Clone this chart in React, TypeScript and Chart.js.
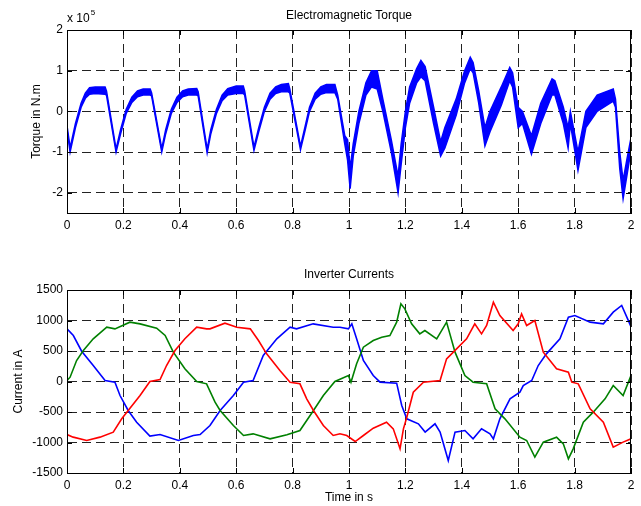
import React, { useEffect, useRef } from 'react';
import { Chart, registerables } from 'chart.js';
Chart.register(...registerables);

const timeTicks = [0, 0.2, 0.4, 0.6, 0.8, 1, 1.2, 1.4, 1.6, 1.8, 2];
const torqueTicks = [-2, -1, 0, 1, 2];
const currentTicks = [-1500, -1000, -500, 0, 500, 1000, 1500];

// Electromagnetic torque (x 1e5 N.m): ripple band envelope
const torqueT = [0, 0.011, 0.03, 0.05, 0.065, 0.08, 0.1, 0.135, 0.14, 0.174, 0.19, 0.21, 0.23, 0.25, 0.27, 0.295, 0.3, 0.336, 0.35, 0.37, 0.39, 0.41, 0.43, 0.46, 0.465, 0.497, 0.51, 0.53, 0.55, 0.57, 0.6, 0.625, 0.63, 0.663, 0.68, 0.7, 0.72, 0.74, 0.76, 0.785, 0.79, 0.828, 0.845, 0.86, 0.88, 0.9, 0.92, 0.95, 0.96, 0.985, 0.995, 1.004, 1.015, 1.035, 1.06, 1.08, 1.1, 1.12, 1.15, 1.174, 1.185, 1.2, 1.215, 1.24, 1.255, 1.27, 1.3, 1.325, 1.34, 1.38, 1.41, 1.43, 1.44, 1.46, 1.482, 1.5, 1.54, 1.57, 1.58, 1.6, 1.615, 1.647, 1.68, 1.72, 1.73, 1.76, 1.777, 1.785, 1.812, 1.84, 1.88, 1.937, 1.945, 1.96, 1.972, 1.985, 2.0];
const torqueHi = [-0.35, -0.9, -0.3, 0.2, 0.45, 0.58, 0.6, 0.6, 0.5, -0.93, -0.45, 0.05, 0.35, 0.5, 0.55, 0.55, 0.45, -0.92, -0.45, 0.05, 0.35, 0.5, 0.55, 0.56, 0.48, -0.93, -0.45, 0.05, 0.4, 0.56, 0.62, 0.62, 0.5, -0.88, -0.4, 0.1, 0.45, 0.6, 0.66, 0.68, 0.55, -0.86, -0.35, 0.1, 0.45, 0.6, 0.66, 0.66, 0.4, -0.6, -0.7, -1.4, -0.8, 0.0, 0.7, 1.0, 1.0, 0.3, -0.7, -1.6, -0.8, 0.0, 0.6, 1.05, 1.25, 1.1, 0.1, -0.75, -0.4, 0.3, 1.0, 1.33, 1.2, 0.5, -0.4, 0.0, 0.6, 1.08, 0.95, 0.1, 0.0, -0.6, 0.2, 0.8, 0.75, 0.1, -0.4, 0.0, -1.0, 0.0, 0.4, 0.55, 0.3, -1.0, -1.7, -1.2, -0.65];
const torqueLo = [-0.45, -1.0, -0.4, 0.1, 0.32, 0.42, 0.44, 0.42, 0.4, -1.0, -0.55, -0.05, 0.22, 0.36, 0.4, 0.4, 0.38, -1.0, -0.55, -0.05, 0.22, 0.36, 0.4, 0.4, 0.38, -1.02, -0.55, -0.05, 0.26, 0.4, 0.44, 0.44, 0.4, -0.96, -0.5, 0.0, 0.3, 0.44, 0.48, 0.48, 0.45, -0.94, -0.45, 0.0, 0.3, 0.42, 0.46, 0.46, 0.3, -0.8, -1.2, -1.9, -1.1, -0.3, 0.4, 0.6, 0.55, 0.0, -1.0, -2.0, -1.3, -0.4, 0.2, 0.7, 0.85, 0.75, -0.3, -1.1, -0.9, -0.1, 0.7, 1.05, 0.95, 0.2, -0.85, -0.5, 0.15, 0.75, 0.6, -0.4, -0.3, -1.05, -0.3, 0.4, 0.4, -0.3, -0.9, -0.3, -1.45, -0.4, 0.0, 0.25, 0.1, -1.4, -2.15, -1.6, -0.95];

// Inverter currents (A)
const blueT = [0, 0.0225, 0.052, 0.093, 0.135, 0.17, 0.188, 0.217, 0.247, 0.294, 0.33, 0.395, 0.448, 0.472, 0.507, 0.543, 0.59, 0.626, 0.66, 0.696, 0.744, 0.791, 0.814, 0.873, 0.944, 0.968, 0.998, 1.01, 1.027, 1.051, 1.086, 1.11, 1.169, 1.187, 1.205, 1.246, 1.27, 1.305, 1.323, 1.352, 1.376, 1.411, 1.44, 1.47, 1.5, 1.512, 1.535, 1.571, 1.606, 1.618, 1.648, 1.671, 1.7, 1.748, 1.778, 1.801, 1.855, 1.902, 1.937, 1.967, 2.0];
const blueI = [863, 754, 497, 262, 16, -11, -230, -475, -667, -896, -869, -967, -885, -870, -721, -475, -230, -11, 16, 426, 700, 890, 863, 945, 890, 890, 863, 945, 700, 344, 98, -11, -27, -393, -612, -694, -830, -694, -830, -1295, -830, -803, -940, -776, -858, -940, -612, -284, -175, -66, 16, 262, 453, 700, 1055, 1082, 973, 945, 1137, 1246, 900];
const greenT = [0, 0.011, 0.034, 0.058, 0.093, 0.141, 0.17, 0.223, 0.259, 0.318, 0.348, 0.377, 0.418, 0.46, 0.495, 0.525, 0.543, 0.59, 0.626, 0.66, 0.72, 0.78, 0.826, 0.874, 0.909, 0.95, 0.998, 1.007, 1.027, 1.051, 1.086, 1.116, 1.145, 1.169, 1.184, 1.198, 1.222, 1.251, 1.269, 1.311, 1.346, 1.376, 1.411, 1.44, 1.488, 1.518, 1.553, 1.606, 1.63, 1.659, 1.689, 1.736, 1.76, 1.778, 1.795, 1.831, 1.866, 1.908, 1.937, 1.972, 2.0];
const greenI = [16, 71, 344, 508, 700, 890, 863, 973, 945, 874, 754, 481, 208, 0, -38, -339, -475, -721, -885, -858, -940, -874, -803, -475, -230, 0, 98, -11, 290, 563, 672, 727, 754, 973, 1273, 1191, 945, 781, 836, 700, 973, 481, 98, -11, -38, -448, -612, -912, -967, -1240, -994, -912, -1022, -1268, -1104, -667, -503, -284, -66, -230, 98];
const redT = [0, 0.022, 0.07, 0.117, 0.164, 0.194, 0.217, 0.259, 0.294, 0.33, 0.353, 0.383, 0.418, 0.46, 0.495, 0.507, 0.56, 0.602, 0.65, 0.679, 0.708, 0.755, 0.791, 0.826, 0.85, 0.874, 0.909, 0.944, 0.968, 0.992, 1.022, 1.051, 1.086, 1.133, 1.157, 1.181, 1.193, 1.205, 1.228, 1.264, 1.323, 1.346, 1.37, 1.417, 1.446, 1.47, 1.488, 1.512, 1.535, 1.582, 1.6, 1.612, 1.63, 1.659, 1.689, 1.736, 1.778, 1.79, 1.813, 1.855, 1.902, 1.937, 1.972, 2.0];
const redI = [-869, -912, -967, -912, -830, -612, -475, -230, 0, 33, 262, 508, 700, 890, 863, 863, 956, 890, 863, 672, 453, 180, -11, -38, -284, -475, -721, -885, -858, -885, -984, -885, -765, -667, -776, -1104, -776, -585, -175, -11, 16, 372, 481, 700, 945, 781, 918, 1300, 1082, 836, 945, 1109, 918, 1000, 481, 208, 153, -11, -38, -448, -667, -1076, -994, -940];

const FONT = '"Liberation Sans", Arial, Helvetica, sans-serif';
const W = 641;
const H = 253;

const pts = (t: number[], v: number[]) => t.map((x, i) => ({ x, y: v[i] }));
const fmt = (v: number) => String(Number(v.toFixed(2)));

type Txt = { text: string; x: number; y: number; rot?: boolean; align?: CanvasTextAlign; sup?: string };

function framePlugin(texts: (a: any) => Txt[]) {
  return {
    id: 'frame',
    afterDraw(chart: any) {
      const { ctx, chartArea: a, scales } = chart;
      ctx.save();
      ctx.strokeStyle = '#000';
      ctx.lineWidth = 1;
      ctx.strokeRect(Math.round(a.left) + 0.5, Math.round(a.top) + 0.5, Math.round(a.right - a.left) - 1, Math.round(a.bottom - a.top));
      // inward tick marks
      const xs = scales.x, ys = scales.y;
      ctx.beginPath();
      xs.ticks.forEach((t: any) => {
        const px = Math.round(xs.getPixelForValue(t.value)) + 0.5;
        ctx.moveTo(px, a.bottom); ctx.lineTo(px, a.bottom - 5);
        ctx.moveTo(px, a.top); ctx.lineTo(px, a.top + 5);
      });
      ys.ticks.forEach((t: any) => {
        const py = Math.round(ys.getPixelForValue(t.value)) + 0.5;
        ctx.moveTo(a.left, py); ctx.lineTo(a.left + 5, py);
        ctx.moveTo(a.right, py); ctx.lineTo(a.right - 5, py);
      });
      ctx.stroke();
      ctx.fillStyle = '#000';
      ctx.textBaseline = 'middle';
      texts(a).forEach((t) => {
        ctx.save();
        ctx.font = '12px ' + FONT;
        ctx.translate(t.x, t.y);
        if (t.rot) ctx.rotate(-Math.PI / 2);
        ctx.textAlign = t.align || 'center';
        ctx.fillText(t.text, 0, 0);
        if (t.sup) {
          const w = ctx.measureText(t.text).width;
          ctx.font = '8px ' + FONT;
          ctx.textAlign = 'left';
          ctx.fillText(t.sup, w + 1, -6);
        }
        ctx.restore();
      });
      ctx.restore();
    },
  };
}

function makeScales(yTicks: number[], yMin: number, yMax: number, xHeight: number) {
  const grid = { color: '#222', lineWidth: 1, drawTicks: false };
  const border = { display: true, color: '#000', dash: [9, 5] };
  return {
    x: {
      type: 'linear' as const,
      min: 0,
      max: 2,
      afterBuildTicks: (s: any) => { s.ticks = timeTicks.map((v) => ({ value: v })); },
      afterFit: (s: any) => { s.height = xHeight; },
      grid,
      border,
      ticks: { color: '#000', font: { family: FONT, size: 12 }, padding: 5, maxRotation: 0, callback: (v: any) => fmt(Number(v)) },
    },
    y: {
      type: 'linear' as const,
      min: yMin,
      max: yMax,
      afterBuildTicks: (s: any) => { s.ticks = yTicks.map((v) => ({ value: v })); },
      afterFit: (s: any) => { s.width = 67; },
      grid,
      border,
      ticks: { color: '#000', font: { family: FONT, size: 12 }, padding: 4, callback: (v: any) => fmt(Number(v)) },
    },
  };
}

export default function App() {
  const topRef = useRef<HTMLCanvasElement>(null);
  const botRef = useRef<HTMLCanvasElement>(null);

  useEffect(() => {
    const top = new Chart(topRef.current!, {
      type: 'line',
      data: {
        datasets: [
          { data: pts(torqueT, torqueHi), borderColor: '#0000ff', backgroundColor: '#0000ff', borderWidth: 1.5, pointRadius: 0, fill: '+1', tension: 0 },
          { data: pts(torqueT, torqueLo), borderColor: '#0000ff', backgroundColor: '#0000ff', borderWidth: 1.5, pointRadius: 0, fill: false, tension: 0 },
        ],
      },
      options: {
        responsive: false,
        animation: false,
        layout: { padding: { top: 30, right: 10, left: 0, bottom: 0 } },
        plugins: { legend: { display: false }, tooltip: { enabled: false } },
        scales: makeScales(torqueTicks, -2.5, 2, 40),
      },
      plugins: [framePlugin((a) => [
        { text: 'Electromagnetic Torque', x: (a.left + a.right) / 2, y: 16 },
        { text: 'x 10', x: a.left, y: 19, align: 'left', sup: '5' },
        { text: 'Torque in N.m', x: 37, y: (a.top + a.bottom) / 2, rot: true },
      ])],
    });

    const bot = new Chart(botRef.current!, {
      type: 'line',
      data: {
        datasets: [
          { data: pts(redT, redI), borderColor: '#ff0000', borderWidth: 1.6, pointRadius: 0, fill: false, tension: 0 },
          { data: pts(greenT, greenI), borderColor: '#008000', borderWidth: 1.6, pointRadius: 0, fill: false, tension: 0 },
          { data: pts(blueT, blueI), borderColor: '#0000ff', borderWidth: 1.6, pointRadius: 0, fill: false, tension: 0 },
        ],
      },
      options: {
        responsive: false,
        animation: false,
        layout: { padding: { top: 37, right: 10, left: 0, bottom: 0 } },
        plugins: { legend: { display: false }, tooltip: { enabled: false } },
        scales: makeScales(currentTicks, -1500, 1500, 33),
      },
      plugins: [framePlugin((a) => [
        { text: 'Inverter Currents', x: (a.left + a.right) / 2, y: 22 },
        { text: 'Current in A', x: 19, y: (a.top + a.bottom) / 2, rot: true },
        { text: 'Time in s', x: (a.left + a.right) / 2, y: 245 },
      ])],
    });

    return () => { top.destroy(); bot.destroy(); };
  }, []);

  return (
    <div style={{ position: 'absolute', left: 0, top: 0, width: W, height: 2 * H, background: '#fff' }}>
      <canvas ref={topRef} width={W} height={H} style={{ display: 'block', width: W, height: H }} />
      <canvas ref={botRef} width={W} height={H} style={{ display: 'block', width: W, height: H }} />
    </div>
  );
}
